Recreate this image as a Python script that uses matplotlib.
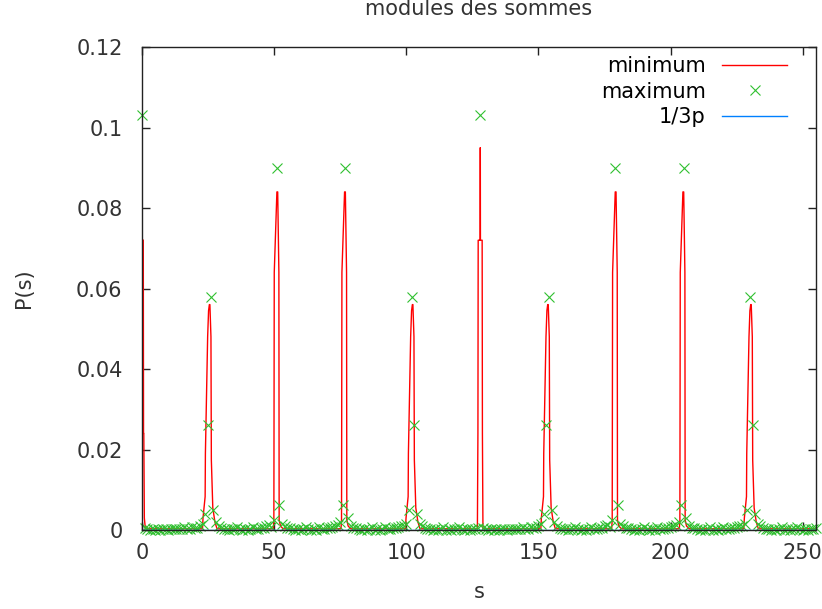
import numpy as np
import matplotlib
matplotlib.use("Agg")
import matplotlib.pyplot as plt

# maximum of |sum| for each s = 0..255
max_values = [
    0.1030, 0.0004, 0.0002, 0.0001, 0.0002, 0.0001, 0.0002, 0.0001, 0.0002, 0.0002, 0.0001, 0.0002, 0.0002, 0.0003, 0.0002, 0.0002,
    0.0007, 0.0002, 0.0003, 0.0007, 0.0004, 0.0006, 0.0009, 0.0015, 0.0040, 0.0260, 0.0580, 0.0050, 0.0020, 0.0009, 0.0005, 0.0003,
    0.0002, 0.0001, 0.0002, 0.0002, 0.0007, 0.0002, 0.0001, 0.0002, 0.0001, 0.0002, 0.0007, 0.0002, 0.0003, 0.0004, 0.0006, 0.0009,
    0.0012, 0.0008, 0.0025, 0.0900, 0.0062, 0.0015, 0.0009, 0.0006, 0.0004, 0.0002, 0.0001, 0.0002, 0.0001, 0.0002, 0.0007, 0.0002,
    0.0001, 0.0002, 0.0001, 0.0007, 0.0002, 0.0003, 0.0004, 0.0006, 0.0008, 0.0010, 0.0013, 0.0020, 0.0062, 0.0900, 0.0030, 0.0010,
    0.0006, 0.0004, 0.0002, 0.0001, 0.0002, 0.0001, 0.0002, 0.0007, 0.0001, 0.0002, 0.0001, 0.0002, 0.0007, 0.0002, 0.0003, 0.0004,
    0.0006, 0.0008, 0.0009, 0.0011, 0.0015, 0.0050, 0.0580, 0.0260, 0.0040, 0.0016, 0.0009, 0.0005, 0.0003, 0.0002, 0.0001, 0.0002,
    0.0001, 0.0002, 0.0007, 0.0001, 0.0002, 0.0001, 0.0002, 0.0002, 0.0007, 0.0002, 0.0001, 0.0002, 0.0001, 0.0002, 0.0003, 0.0004,
    0.1030, 0.0004, 0.0002, 0.0001, 0.0002, 0.0001, 0.0002, 0.0001, 0.0002, 0.0002, 0.0001, 0.0002, 0.0002, 0.0003, 0.0002, 0.0002,
    0.0007, 0.0002, 0.0003, 0.0007, 0.0004, 0.0006, 0.0009, 0.0015, 0.0040, 0.0260, 0.0580, 0.0050, 0.0020, 0.0009, 0.0005, 0.0003,
    0.0002, 0.0001, 0.0002, 0.0002, 0.0007, 0.0002, 0.0001, 0.0002, 0.0001, 0.0002, 0.0007, 0.0002, 0.0003, 0.0004, 0.0006, 0.0009,
    0.0012, 0.0008, 0.0025, 0.0900, 0.0062, 0.0015, 0.0009, 0.0006, 0.0004, 0.0002, 0.0001, 0.0002, 0.0001, 0.0002, 0.0007, 0.0002,
    0.0001, 0.0002, 0.0001, 0.0007, 0.0002, 0.0003, 0.0004, 0.0006, 0.0008, 0.0010, 0.0013, 0.0020, 0.0062, 0.0900, 0.0030, 0.0010,
    0.0006, 0.0004, 0.0002, 0.0001, 0.0002, 0.0001, 0.0002, 0.0007, 0.0001, 0.0002, 0.0001, 0.0002, 0.0007, 0.0002, 0.0003, 0.0004,
    0.0006, 0.0008, 0.0009, 0.0011, 0.0015, 0.0050, 0.0580, 0.0260, 0.0040, 0.0016, 0.0009, 0.0005, 0.0003, 0.0002, 0.0001, 0.0002,
    0.0001, 0.0002, 0.0007, 0.0001, 0.0002, 0.0001, 0.0002, 0.0002, 0.0007, 0.0002, 0.0001, 0.0002, 0.0001, 0.0002, 0.0003, 0.0004,
]

# minimum curve, finer sampling around each peak
red_x = [
    0.5, 0.6, 0.7, 0.9, 1.3,
    22.9, 23.1, 23.9, 24.0, 24.85, 25.2, 25.5, 25.7, 26.1, 26.25, 26.8, 27.6, 28.4,
    49.7, 49.9, 49.95, 50.05, 51.05, 51.35, 51.8, 51.9, 52.4, 53.4,
    75.3, 75.5, 75.55, 75.65, 76.65, 76.95, 77.4, 77.5, 78.0, 79.0,
    99.7, 99.9, 100.7, 100.8, 101.65, 102.0, 102.3, 102.5, 102.9, 103.05, 103.6, 104.4, 105.2,
    126.9, 127.1, 127.2, 127.95, 128.0, 128.05, 128.7, 128.8, 129.0,
    150.9, 151.1, 151.9, 152.0, 152.85, 153.2, 153.5, 153.7, 154.1, 154.25, 154.8, 155.6, 156.4,
    177.7, 177.9, 177.95, 178.05, 179.05, 179.35, 179.8, 179.9, 180.4, 181.4,
    203.3, 203.5, 203.55, 203.65, 204.65, 204.95, 205.4, 205.5, 206.0, 207.0,
    227.7, 227.9, 228.7, 228.8, 229.65, 230.0, 230.3, 230.5, 230.9, 231.05, 231.6, 232.4, 233.2,
    255.0,
]
red_y = [
    0.072, 0.024, 0.024, 0.003, 0.0003,
    0.0003, 0.003, 0.0083, 0.019, 0.048, 0.0545, 0.056, 0.056, 0.048, 0.0174, 0.0055, 0.002, 0.0003,
    0.0003, 0.0025, 0.022, 0.064, 0.084, 0.084, 0.064, 0.0025, 0.001, 0.0003,
    0.0003, 0.0025, 0.022, 0.064, 0.084, 0.084, 0.064, 0.0025, 0.001, 0.0003,
    0.0003, 0.003, 0.0083, 0.019, 0.048, 0.0545, 0.056, 0.056, 0.048, 0.0174, 0.0055, 0.002, 0.0003,
    0.0003, 0.024, 0.072, 0.072, 0.095, 0.072, 0.072, 0.024, 0.0003,
    0.0003, 0.003, 0.0083, 0.019, 0.048, 0.0545, 0.056, 0.056, 0.048, 0.0174, 0.0055, 0.002, 0.0003,
    0.0003, 0.0025, 0.022, 0.064, 0.084, 0.084, 0.064, 0.0025, 0.001, 0.0003,
    0.0003, 0.0025, 0.022, 0.064, 0.084, 0.084, 0.064, 0.0025, 0.001, 0.0003,
    0.0003, 0.003, 0.0083, 0.019, 0.048, 0.0545, 0.056, 0.056, 0.048, 0.0174, 0.0055, 0.002, 0.0003,
    0.0003,
]

third_p_level = 0.0001

x_ticks = [0, 50, 100, 150, 200, 250]
y_ticks = [0, 0.02, 0.04, 0.06, 0.08, 0.1, 0.12]
y_tick_labels = ["0", "0.02", "0.04", "0.06", "0.08", "0.1", "0.12"]

plt.rcParams["font.family"] = ["DejaVu Sans"]
TEXT = "#333333"
FS = 15

fig = plt.figure(figsize=(8.22, 6.09), dpi=100)
ax = fig.add_axes([0.1727, 0.1297, 0.82, 0.7931])

s = np.arange(len(max_values))

ax.plot(red_x, red_y, color="#ff0000", linewidth=1.0, label="minimum")
ax.plot(s, max_values, linestyle="none", marker="x", markersize=7,
        markeredgewidth=0.8, color="#30c030", label="maximum", clip_on=False)
ax.plot([0, 255], [third_p_level, third_p_level], color="#0080ff",
        linewidth=1.0, label="1/3p")

ax.set_xlim(0, 255)
ax.set_ylim(0, 0.12)
ax.set_xticks(x_ticks)
ax.set_yticks(y_ticks)
ax.set_yticklabels(y_tick_labels)
ax.tick_params(direction="in", length=6, width=1, top=True, right=True,
               labelsize=FS, colors="#222222", labelcolor=TEXT)
ax.tick_params(axis="x", pad=9)
ax.tick_params(axis="y", pad=14)
for sp in ax.spines.values():
    sp.set_linewidth(1.0)
    sp.set_color("#222222")
    sp.set_zorder(5)

ax.set_title("modules des sommes", fontsize=FS, pad=23, color=TEXT)
ax.set_xlabel("s", fontsize=FS, labelpad=14, color=TEXT)
ax.set_ylabel("P(s)", fontsize=FS, labelpad=30, color=TEXT)

ax.legend(loc="upper right", bbox_to_anchor=(787 / 822, 1 - 56 / 609),
          bbox_transform=fig.transFigure, frameon=False, borderpad=0,
          borderaxespad=0, markerfirst=False, fontsize=FS, handlelength=3.1,
          labelspacing=0.27, handletextpad=0.8)

fig.savefig("out.png", dpi=100)
